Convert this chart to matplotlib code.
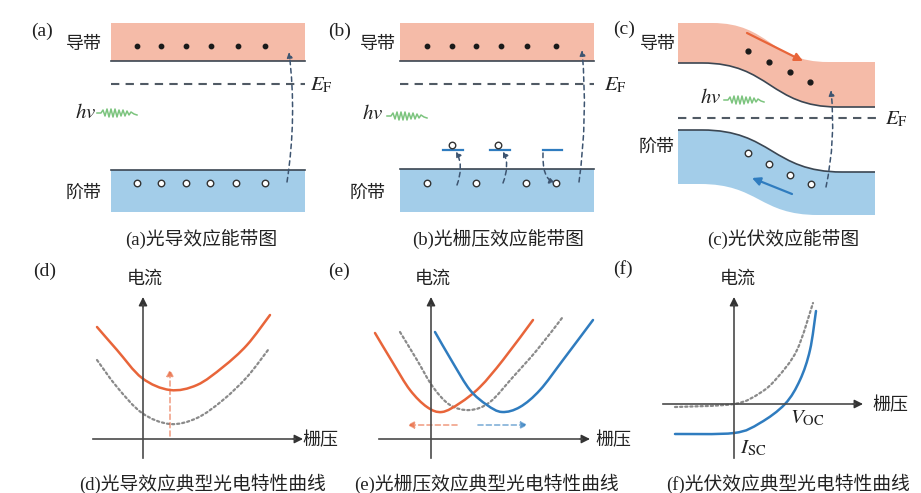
import numpy as np
import matplotlib
matplotlib.use('Agg')
import matplotlib.pyplot as plt
from matplotlib.path import Path
from matplotlib.patches import PathPatch, FancyArrowPatch, Rectangle

plt.rcParams['mathtext.fontset'] = 'stix'
MIXED = ['Liberation Serif', 'Noto Sans CJK SC']

# ---- colours
CB_FILL = '#f5bba8'
VB_FILL = '#a3cde9'
EDGE = '#3b4652'
ORANGE = '#e8653a'
BLUE = '#2f7cbf'
GREY = '#8a8a8a'
WAVE = '#7cc47e'
TXT = '#222222'

# ---- top row: band diagrams, coordinates in source pixels
flat_cb = [(111, 305, 23, 61), (400, 594, 23, 61)]      # x0, x1, top, bottom
flat_vb = [(111, 305, 170, 212), (400, 594, 169, 212)]
ef_x = [(111, 305), (400, 594), (678, 877)]
ef_y = [84, 84, 118]
ef_label_x = [310, 604, 885]

elec_a_x = [137, 161, 186, 211, 238, 265]
elec_b_x = [427, 452, 476, 501, 527, 556]
elec_ab_y = 46
hole_a_x = [137, 161, 186, 210, 236, 265]
hole_b_x = [427, 476, 526, 556]
hole_ab_y = 183

trap_x = [(443, 463), (490, 510), (543, 562)]
trap_y = 150
trap_hole_x = [452, 498]
trap_hole_y = 145

elec_c_x = [748, 769, 790, 810]
elec_c_y = [51, 62, 72, 82]
hole_c_x = [748, 769, 790, 811]
hole_c_y = [153, 164, 175, 184]

# bent bands (c): flat, S-bend, flat
cb_c_top = [(678, 23), (712, 23), (828, 62), (875, 62)]
cb_c_bot = [(678, 63), (702, 63), (838, 107), (875, 107)]
vb_c_top = [(678, 130), (702, 130), (842, 172), (875, 172)]
vb_c_bot = [(678, 184), (700, 184), (818, 215), (875, 215)]

# excitation (dashed) arrows: start, control, end
jumps = [
    ((287, 182), (297, 117), (289, 52)),
    ((457, 185), (464, 166), (456, 151)),
    ((503, 183), (510, 165), (503, 151)),
    ((543, 153), (542, 178), (555, 183)),
    ((579, 182), (588, 117), (582, 50)),
    ((826, 187), (836, 140), (831, 90)),
]

wave_dx = [0, 4, 6, 8, 10, 12, 14, 16, 18, 20, 22, 24, 26, 28, 30, 32, 34, 37, 40]
wave_dy = [0, 0, -3, 3, -4, 4, -4, 4, -4, 4, -3, 3, -3, 3, -2, 2, -1, 1, 2]
wave_start = [(97, 113), (387, 116), (724, 100)]
hv_pos = [(86, 112), (373, 113), (711, 97)]

# ---- bottom row: characteristic curves
d_orange_x = [97, 117, 142, 170, 197, 223, 247, 270]
d_orange_y = [327, 350, 378, 390, 385, 367, 345, 315]
d_grey_x = [97, 117, 142, 170, 197, 223, 247, 268]
d_grey_y = [360, 387, 413, 424, 418, 400, 377, 350]

e_orange_x = [375, 393, 410, 427, 442, 460, 480, 503, 533]
e_orange_y = [333, 363, 390, 407, 412, 403, 387, 360, 320]
e_grey_x = [400, 417, 433, 450, 470, 490, 513, 537, 562]
e_grey_y = [332, 360, 387, 405, 410, 402, 377, 350, 318]
e_blue_x = [435, 453, 470, 487, 502, 520, 540, 563, 593]
e_blue_y = [332, 363, 390, 405, 412, 407, 390, 360, 320]

f_blue_x = [675, 734, 760, 785, 800, 810, 816]
f_blue_y = [434, 433, 423, 404, 380, 350, 311]
f_grey_x = [675, 734, 760, 777, 797, 813]
f_grey_y = [407, 404, 393, 378, 350, 303]

# axis frames: y-axis x, x-axis y, x-range, y-range
frames = [
    (143, 439, (93, 303), (458, 297)),
    (431, 439, (379, 590), (458, 297)),
    (734, 404, (663, 863), (458, 297)),
]

panel_tags = ['(a)', '(b)', '(c)', '(d)', '(e)', '(f)']
tag_pos = [(31, 31), (328, 31), (613, 29), (33, 271), (328, 271), (613, 269)]
band_names = ['导带', '阶带']
band_name_pos = [[(84, 44), (84, 193)], [(378, 44), (368, 193)], [(658, 44), (657, 147)]]
current_pos = [(145, 279), (433, 279), (738, 279)]
gate_pos = [(302, 440), (595, 440), (872, 405)]
captions = ['(a)光导效应能带图', '(b)光栅压效应能带图', '(c)光伏效应能带图',
            '(d)光导效应典型光电特性曲线', '(e)光栅压效应典型光电特性曲线',
            '(f)光伏效应典型光电特性曲线']
caption_pos = [(201, 239), (498, 239), (783, 239), (202, 484), (486, 484), (788, 484)]


def bent_edge(knots):
    (x0, y0), (x1, y1), (x2, y2), (x3, y3) = knots
    w = (x2 - x1) / 2
    verts = [(x0, y0), (x1, y1), (x1 + w, y1), (x2 - w, y2), (x2, y2), (x3, y3)]
    codes = [Path.MOVETO, Path.LINETO, Path.CURVE4, Path.CURVE4, Path.CURVE4, Path.LINETO]
    return verts, codes


def bent_band(ax, top, bot, fill, edge_side):
    tv, tc = bent_edge(top)
    bv, bc = bent_edge(bot)
    verts = tv + bv[::-1] + [tv[0]]
    codes = tc + [Path.LINETO, Path.LINETO, Path.CURVE4, Path.CURVE4, Path.CURVE4,
                  Path.LINETO] + [Path.CLOSEPOLY]
    ax.add_patch(PathPatch(Path(verts, codes), facecolor=fill, edgecolor='none'))
    ev, ec = (bv, bc) if edge_side == 'bottom' else (tv, tc)
    ax.add_patch(PathPatch(Path(ev, ec), fill=False, edgecolor=EDGE, lw=1.2))


def smooth(ax, xs, ys, **kw):
    pts = np.column_stack([xs, ys]).astype(float)
    verts, codes = [pts[0]], [Path.MOVETO]
    for i in range(len(pts) - 1):
        p0 = pts[i - 1] if i > 0 else pts[i]
        p1, p2 = pts[i], pts[i + 1]
        p3 = pts[i + 2] if i + 2 < len(pts) else pts[i + 1]
        verts += [p1 + (p2 - p0) / 6, p2 - (p3 - p1) / 6, p2]
        codes += [Path.CURVE4] * 3
    ax.add_patch(PathPatch(Path(verts, codes), fill=False, capstyle='round', **kw))


def arrow(ax, tail, tip, color, lw=1.3, ls='-', scale=10, alpha=1.0):
    ax.add_patch(FancyArrowPatch(tail, tip, arrowstyle='-|>', color=color, lw=lw,
                                 linestyle=ls, mutation_scale=scale, alpha=alpha,
                                 shrinkA=0, shrinkB=0))


fig = plt.figure(figsize=(9.21, 4.93), dpi=100)
ax = fig.add_axes([0, 0, 1, 1])
ax.set_xlim(0, 921)
ax.set_ylim(493, 0)
ax.axis('off')

# flat bands (a), (b)
for (x0, x1, t, b) in flat_cb:
    ax.add_patch(Rectangle((x0, t), x1 - x0, b - t, facecolor=CB_FILL, edgecolor='none'))
    ax.plot([x0, x1], [b, b], color=EDGE, lw=1.2)
for (x0, x1, t, b) in flat_vb:
    ax.add_patch(Rectangle((x0, t), x1 - x0, b - t, facecolor=VB_FILL, edgecolor='none'))
    ax.plot([x0, x1], [t, t], color=EDGE, lw=1.2)

# bent bands (c)
bent_band(ax, cb_c_top, cb_c_bot, CB_FILL, 'bottom')
bent_band(ax, vb_c_top, vb_c_bot, VB_FILL, 'top')

# Fermi levels
for (x0, x1), y, lx in zip(ef_x, ef_y, ef_label_x):
    ax.plot([x0, x1], [y, y], color='#505a64', lw=1.5, linestyle=(0, (4, 3)))
    ax.text(lx, y + 1, r'$E_{\mathrm{F}}$', fontsize=15, color=TXT, va='center', ha='left')

# carriers
ax.scatter(elec_a_x + elec_b_x, [elec_ab_y] * 12, s=10, color='#1a1a1a', zorder=4)
ax.scatter(elec_c_x, elec_c_y, s=12, color='#1a1a1a', zorder=4)
hole_kw = dict(s=22, facecolor='white', edgecolor='#333333', linewidths=1.0, zorder=4)
ax.scatter(hole_a_x + hole_b_x, [hole_ab_y] * 10, **hole_kw)
ax.scatter(hole_c_x, hole_c_y, **hole_kw)
ax.scatter(trap_hole_x, [trap_hole_y] * 2, **hole_kw)

# trap levels (b)
for x0, x1 in trap_x:
    ax.plot([x0, x1], [trap_y, trap_y], color=BLUE, lw=1.6)

# dashed excitation arrows
for s, c, e in jumps:
    p = Path([s, c, e], [Path.MOVETO, Path.CURVE3, Path.CURVE3])
    ax.add_patch(FancyArrowPatch(path=p, arrowstyle='-|>', color='#3d5470', lw=1.1,
                                 linestyle=(0, (3, 2.5)), mutation_scale=8, zorder=5))

# drift arrows (c)
arrow(ax, (747, 33), (803, 61), ORANGE, lw=1.6, scale=12)
arrow(ax, (792, 194), (752, 178), BLUE, lw=1.6, scale=12)

# photons
for (wx, wy), (hx, hy) in zip(wave_start, hv_pos):
    ax.plot(np.array(wave_dx) + wx, np.array(wave_dy) + wy, color=WAVE, lw=1.1)
    ax.text(hx, hy, r'$hv$', fontsize=15, color=TXT, ha='center', va='center')

# axis frames
for yx, xy, (xa, xb), (ya, yb) in frames:
    ax.plot([xa, xb - 8], [xy, xy], color='#4a4a4a', lw=1.2)
    ax.plot([yx, yx], [ya, yb + 8], color='#4a4a4a', lw=1.2)
    arrow(ax, (xb - 10, xy), (xb, xy), '#333333', lw=1.0, scale=13)
    arrow(ax, (yx, yb + 10), (yx, yb), '#333333', lw=1.0, scale=13)

# curves
dot = dict(edgecolor=GREY, lw=1.6, linestyle=(0, (1, 1.3)))
smooth(ax, d_grey_x, d_grey_y, **dot)
smooth(ax, d_orange_x, d_orange_y, edgecolor=ORANGE, lw=1.8)
smooth(ax, e_grey_x, e_grey_y, **dot)
smooth(ax, e_orange_x, e_orange_y, edgecolor=ORANGE, lw=1.8)
smooth(ax, e_blue_x, e_blue_y, edgecolor=BLUE, lw=1.8)
smooth(ax, f_grey_x, f_grey_y, **dot)
smooth(ax, f_blue_x, f_blue_y, edgecolor=BLUE, lw=1.8)

# shift arrows
arrow(ax, (170, 436), (170, 369), ORANGE, lw=1.2, ls=(0, (3, 2)), scale=10, alpha=0.6)
arrow(ax, (457, 425), (407, 425), ORANGE, lw=1.2, ls=(0, (3, 2)), scale=10, alpha=0.6)
arrow(ax, (478, 425), (528, 425), BLUE, lw=1.2, ls=(0, (3, 2)), scale=10, alpha=0.6)

# texts
for t, (x, y) in zip(panel_tags, tag_pos):
    ax.text(x, y, t, fontsize=14, family='Liberation Serif', color=TXT, ha='left', va='center')
for names, pos in zip([band_names] * 3, band_name_pos):
    for nm, (x, y) in zip(names, pos):
        ax.text(x, y, nm, fontsize=13, family='Noto Sans CJK SC', color=TXT,
                ha='center', va='center')
for x, y in current_pos:
    ax.text(x, y, '电流', fontsize=13, family='Noto Sans CJK SC', color=TXT,
            ha='center', va='center')
for x, y in gate_pos:
    ax.text(x, y, '栅压', fontsize=13, family='Noto Sans CJK SC', color=TXT,
            ha='left', va='center')
ax.text(790, 418, r'$V_{\mathrm{OC}}$', fontsize=15, color=TXT, ha='left', va='center')
ax.text(740, 448, r'$I_{\mathrm{SC}}$', fontsize=15, color=TXT, ha='left', va='center')
for t, (x, y) in zip(captions, caption_pos):
    ax.text(x, y, t, fontsize=13.5, family=MIXED, color=TXT, ha='center', va='center')

fig.savefig('out.png', dpi=100, facecolor='white')
plt.close(fig)
